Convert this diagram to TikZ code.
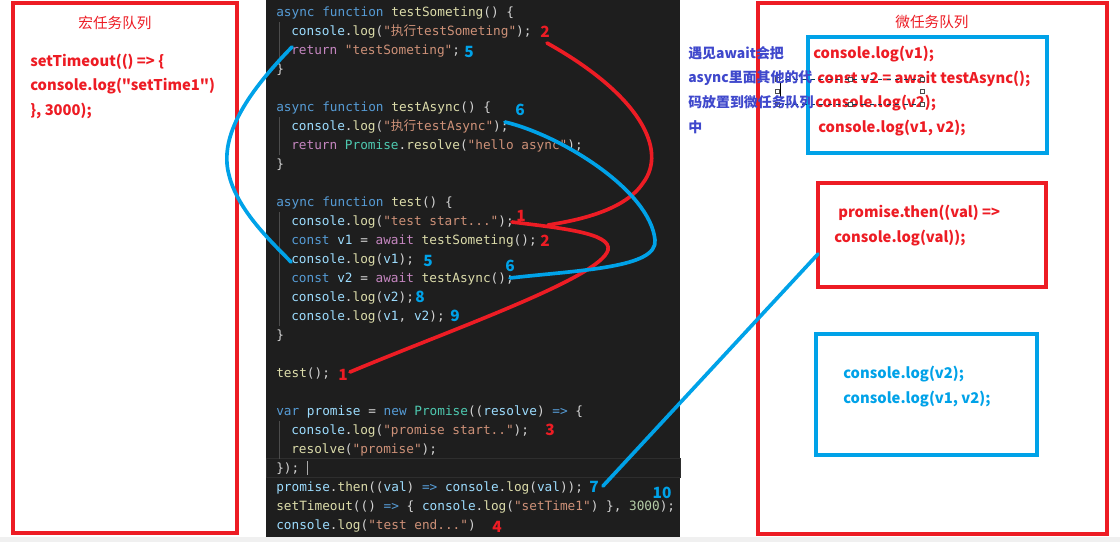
\documentclass[tikz,border=0pt]{standalone}
\usepackage{fontspec}
\newfontfamily\cjk{Noto Sans CJK SC}
\newfontfamily\codefont{DejaVu Sans Mono}
\usetikzlibrary{arrows.meta,calc,positioning}

\definecolor{paintred}{RGB}{237,28,36}
\definecolor{paintblue}{RGB}{0,162,232}
\definecolor{noteblue}{RGB}{63,72,204}
\definecolor{editorbg}{RGB}{30,30,30}
\definecolor{vspunct}{RGB}{212,212,212}
\definecolor{vskw}{RGB}{86,156,214}
\definecolor{vsfn}{RGB}{220,220,170}
\definecolor{vsstr}{RGB}{206,145,120}
\definecolor{vsctl}{RGB}{197,134,192}
\definecolor{vsvar}{RGB}{156,220,254}
\definecolor{vscls}{RGB}{78,201,176}
\definecolor{vsnum}{RGB}{181,206,168}

\newcommand{\jskw}[1]{\textcolor{vskw}{#1}}
\newcommand{\jsfn}[1]{\textcolor{vsfn}{#1}}
\newcommand{\jsstr}[1]{\textcolor{vsstr}{#1}}
\newcommand{\jsctl}[1]{\textcolor{vsctl}{#1}}
\newcommand{\jsvar}[1]{\textcolor{vsvar}{#1}}
\newcommand{\jscls}[1]{\textcolor{vscls}{#1}}
\newcommand{\jsnum}[1]{\textcolor{vsnum}{#1}}

\begin{document}
\begin{tikzpicture}[x=0.025cm,y=-0.025cm,
redbox/.style={draw=paintred,line width=2.8pt},
bluebox/.style={draw=paintblue,line width=2.8pt},
redpen/.style={draw=paintred,line width=2.6pt,line cap=round},
bluepen/.style={draw=paintblue,line width=2.6pt,line cap=round},
codeline/.style={anchor=base west,inner sep=0pt,text=vspunct,
  font=\codefont\fontsize{9.06}{11}\selectfont\frenchspacing},
redtxt/.style={anchor=base west,inner sep=0pt,text=paintred,
  font=\cjk\bfseries\fontsize{10.5}{13}\selectfont},
bluetxt/.style={redtxt,text=paintblue},
qtitle/.style={inner sep=0pt,text=paintred,font=\cjk\fontsize{10.4}{12}\selectfont},
note/.style={anchor=base west,inner sep=0pt,text=noteblue,
  font=\cjk\bfseries\fontsize{9.9}{12}\selectfont},
redno/.style={inner sep=0pt,text=paintred,font=\cjk\bfseries\fontsize{11}{13}\selectfont},
blueno/.style={redno,text=paintblue},
guide/.style={draw=black!70!white,line width=0.4pt}]
\useasboundingbox (0,0) rectangle (1120,542);
\fill[white] (0,0) rectangle (1120,542);
\fill[black!6] (0,537) rectangle (1120,542);

% code editor
\fill[editorbg] (266,0) rectangle (680,537);
\draw[black!82!white,line width=0.5pt] (266,458) rectangle (680,477);
\draw[guide] (279,22)--(279,60) (279,117)--(279,155) (279,212)--(279,326) (279,421)--(279,459);
\draw[vspunct!80!black,line width=0.6pt] (307,461)--(307,475);

\node[codeline] (code1) at (276,16) {\jskw{async function} \jsfn{testSometing}() \{};
\node[codeline] (code2) at (291,35) {\jsvar{console}.\jsfn{log}(\jsstr{"{\cjk 执行}testSometing"});};
\node[codeline] (code3) at (291,54) {\jsctl{return} \jsstr{"testSometing"};};
\node[codeline] (code4) at (276,73) {\}};
\node[codeline] (code6) at (276,111) {\jskw{async function} \jsfn{testAsync}() \{};
\node[codeline] (code7) at (291,130) {\jsvar{console}.\jsfn{log}(\jsstr{"{\cjk 执行}testAsync"});};
\node[codeline] (code8) at (291,149) {\jsctl{return} \jscls{Promise}.\jsfn{resolve}(\jsstr{"hello async"});};
\node[codeline] (code9) at (276,168) {\}};
\node[codeline] (code11) at (276,206) {\jskw{async function} \jsfn{test}() \{};
\node[codeline] (code12) at (291,225) {\jsvar{console}.\jsfn{log}(\jsstr{"test start..."});};
\node[codeline] (code13) at (291,244) {\jskw{const} \jsvar{v1} = \jsctl{await} \jsfn{testSometing}();};
\node[codeline] (code14) at (291,263) {\jsvar{console}.\jsfn{log}(\jsvar{v1});};
\node[codeline] (code15) at (291,282) {\jskw{const} \jsvar{v2} = \jsctl{await} \jsfn{testAsync}();};
\node[codeline] (code16) at (291,301) {\jsvar{console}.\jsfn{log}(\jsvar{v2});};
\node[codeline] (code17) at (291,320) {\jsvar{console}.\jsfn{log}(\jsvar{v1}, \jsvar{v2});};
\node[codeline] (code18) at (276,339) {\}};
\node[codeline] (code20) at (276,377) {\jsfn{test}();};
\node[codeline] (code22) at (276,415) {\jskw{var} \jsvar{promise} = \jskw{new} \jscls{Promise}((\jsvar{resolve}) \jskw{=>} \{};
\node[codeline] (code23) at (291,434) {\jsvar{console}.\jsfn{log}(\jsstr{"promise start.."});};
\node[codeline] (code24) at (291,453) {\jsfn{resolve}(\jsstr{"promise"});};
\node[codeline] (code25) at (276,472) {\});};
\node[codeline] (code26) at (276,491) {\jsvar{promise}.\jsfn{then}((\jsvar{val}) \jskw{=>} \jsvar{console}.\jsfn{log}(\jsvar{val}));};
\node[codeline] (code27) at (276,510) {\jsfn{setTimeout}(() \jskw{=>} \{ \jsvar{console}.\jsfn{log}(\jsstr{"setTime1"}) \}, \jsnum{3000});};
\node[codeline] (code28) at (276,529) {\jsvar{console}.\jsfn{log}(\jsstr{"test end..."})};

% macro task queue
\draw[redbox] (13,3) rectangle (237,533);
\node[qtitle] (macroq) at (115,23) {宏任务队列};
\node[redtxt] (macro1) at (30,66) {setTimeout(() => \{};
\node[redtxt] (macro2) at (30,90) {console.log("setTime1")};
\node[redtxt] (macro3) at (30,115) {\}, 3000);};

% micro task queue
\draw[redbox] (758,3) rectangle (1107,534);
\node[qtitle] (microq) at (932,22) {微任务队列};
\draw[bluebox] (808,37) rectangle (1047,153);
\node[redtxt] (micro1) at (813,58) {console.log(v1);};
\node[redtxt] (micro2) at (817,83) {const v2 = await testAsync();};
\node[redtxt] (micro3) at (815,107) {console.log(v2);};
\node[redtxt] (micro4) at (818,132) {console.log(v1, v2);};
\draw[redbox] (818,183) rectangle (1046,287);
\node[redtxt] (then1) at (838,217) {promise.then((val) =>};
\node[redtxt] (then2) at (834,242) {console.log(val));};
\draw[bluebox] (816,334) rectangle (1037,455);
\node[bluetxt] (rest1) at (843,378) {console.log(v2);};
\node[bluetxt] (rest2) at (843,403) {console.log(v1, v2);};

% selection frame left in the screenshot
\draw[black!60!paintblue,line width=0.4pt,dashed] (777,79)--(922,79) (777,104)--(922,104);
\foreach \hx/\hy in {777/79,850/79,922/79,777/91.5,922/91.5,777/104,850/104,922/104}
  \draw[black!70,fill=white,line width=0.3pt] (\hx-2,\hy-2) rectangle (\hx+2,\hy+2);
\draw[black,line width=0.6pt] (780,82)--(780,97);

% note
\node[note] (note1) at (688,58) {遇见await会把};
\node[note] (note2) at (688,82) {async里面其他的代};
\node[note] (note3) at (688,107) {码放置到微任务队列};
\node[note] (note4) at (688,132) {中};

% order numbers
\node[redno] (n1a) at (521,216) {1};
\node[redno] (n1b) at (343,375) {1};
\node[redno] (n2a) at (545,32) {2};
\node[redno] (n2b) at (545,241) {2};
\node[redno] (n3) at (550,430) {3};
\node[redno] (n4) at (497,527) {4};
\node[blueno] (n5a) at (469,52) {5};
\node[blueno] (n5b) at (428,261) {5};
\node[blueno] (n6a) at (520,110) {6};
\node[blueno] (n6b) at (510,266) {6};
\node[blueno] (n7) at (594,487) {7};
\node[blueno] (n8) at (420,297) {8};
\node[blueno] (n9) at (455,316) {9};
\node[blueno] (n10) at (662,493) {10};

% hand drawn strokes
\coordinate (testcall) at (350,372);
\coordinate (startend) at (512,222);
\coordinate (logend) at (547,43);
\coordinate (startback) at (548,225);
\coordinate (returnpt) at (292,47);
\coordinate (v1pt) at (291,262);
\coordinate (asyncpt) at (505,122);
\coordinate (v2pt) at (510,278);
\coordinate (thenpt) at (603,486);
\coordinate (thenbox) at (818,254);
\draw[redpen] (testcall) .. controls (450,330) and (600,278) .. (608,250)
  .. controls (612,233) and (560,228) .. (startend);
\draw[redpen] (logend) .. controls (640,95) and (668,150) .. (643,183)
  .. controls (625,210) and (580,220) .. (startback);
\draw[bluepen] (returnpt) .. controls (250,90) and (218,135) .. (229,175)
  .. controls (238,212) and (275,245) .. (v1pt);
\draw[bluepen] (asyncpt) .. controls (560,135) and (650,190) .. (655,240)
  .. controls (658,268) and (580,270) .. (v2pt);
\draw[bluepen] (thenpt) -- (thenbox);
\end{tikzpicture}
\end{document}
